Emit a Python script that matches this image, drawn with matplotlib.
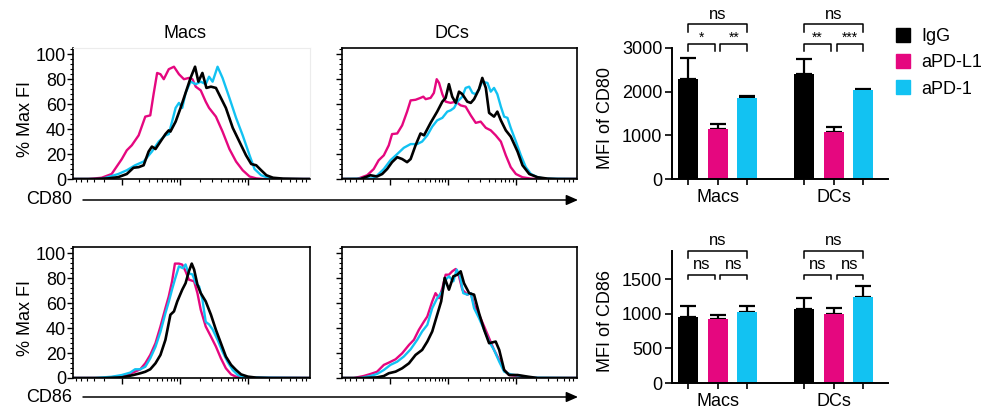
import numpy as np
import matplotlib
matplotlib.use("Agg")
import matplotlib.pyplot as plt
from matplotlib.patches import Patch

plt.rcParams['font.family'] = ['Liberation Sans', 'DejaVu Sans']

# colours for the three treatments
c_igg = 'black'
c_pdl1 = '#e5077f'
c_pd1 = '#12c2f2'

# ---- histogram data (fluorescence axis 0..1000, % of max) ----
# CD80, Macs
cd80_macs_pdl1_x = [0, 64, 121, 163, 206, 227, 248, 277, 305, 326, 340, 355, 369, 383, 404, 426, 447, 468, 489, 504, 518, 539, 560, 574, 603, 631, 660, 688, 716, 745, 773, 801, 1000]
cd80_macs_pdl1_y = [0, 0, 1, 4, 16, 23, 27, 35, 50, 51, 68, 85, 84, 80, 88, 90, 84, 80, 81, 80, 74, 71, 62, 57, 50, 38, 24, 14, 7, 2, 0.5, 0, 0]
cd80_macs_pd1_x = [0, 121, 191, 227, 262, 298, 333, 362, 390, 404, 418, 433, 447, 461, 475, 496, 518, 539, 560, 574, 589, 610, 631, 660, 688, 716, 745, 766, 794, 830, 870, 1000]
cd80_macs_pd1_y = [0, 0, 4, 7, 11, 14, 22, 30, 35, 36, 46, 57, 61, 57, 69, 78, 76, 78, 76, 82, 78, 90, 81, 65, 49, 35, 19, 8, 3, 0.5, 0, 0]
cd80_macs_igg_x = [0, 92, 149, 191, 227, 255, 277, 298, 319, 333, 348, 369, 390, 404, 411, 433, 454, 475, 496, 515, 529, 546, 563, 582, 603, 624, 645, 674, 702, 730, 752, 773, 794, 816, 844, 887, 972, 1000]
cd80_macs_igg_y = [0, 0, 0.5, 1.5, 4, 9, 9.5, 11, 22, 26, 24, 30, 36, 39, 38, 46, 57, 69, 81, 90, 78, 85, 73, 74, 73, 65, 57, 41, 30, 19, 12, 11, 7, 3, 1, 0.3, 0, 0]

# CD80, DCs
cd80_dcs_pdl1_x = [0, 64, 107, 135, 156, 178, 199, 213, 235, 256, 277, 292, 313, 334, 346, 356, 377, 391, 403, 413, 427, 441, 462, 484, 505, 526, 548, 569, 590, 612, 633, 654, 676, 697, 718, 740, 768, 804, 832, 1000]
cd80_dcs_pdl1_y = [0, 0, 3, 8, 15, 19, 27, 36, 36.5, 43, 54, 63, 63.5, 65, 66, 64, 65, 69, 80, 77, 68, 62, 61, 62, 59, 58, 51, 45, 46, 41, 39, 35, 30, 19, 9.5, 4, 1.4, 0.3, 0, 0]
cd80_dcs_pd1_x = [0, 135, 156, 178, 206, 235, 263, 292, 320, 341, 363, 384, 405, 427, 448, 462, 477, 491, 512, 526, 541, 555, 569, 583, 597, 619, 633, 647, 661, 676, 690, 704, 718, 740, 761, 782, 804, 832, 861, 1000]
cd80_dcs_pd1_y = [0, 0.5, 4, 8, 15, 20, 25, 28, 28, 30, 35, 42, 47, 49, 54, 55, 57, 62, 66, 73, 74, 69, 68, 72, 78, 77, 70, 73, 68, 58, 50, 49, 41, 30, 19, 9.5, 4, 1.4, 0.3, 0]
cd80_dcs_igg_x = [0, 78, 107, 121, 149, 171, 192, 213, 235, 256, 277, 292, 313, 334, 349, 377, 405, 427, 441, 455, 469, 484, 498, 512, 533, 548, 562, 583, 597, 612, 626, 647, 661, 676, 697, 718, 747, 768, 797, 832, 875, 917, 1000]
cd80_dcs_igg_y = [0, 0, 2, 3, 2, 4, 8, 13.5, 17.5, 16, 13.5, 16, 27, 36.5, 35, 45, 54, 62, 65, 76, 66, 61, 70, 68, 62, 61, 64, 72, 81, 73, 53, 50, 54, 47, 39, 34, 22, 11, 4, 1.4, 0.3, 0, 0]

# CD86, Macs
cd86_macs_pdl1_x = [0, 121, 191, 227, 262, 284, 305, 326, 348, 369, 390, 404, 418, 430, 447, 461, 475, 489, 511, 525, 539, 560, 582, 603, 624, 645, 667, 688, 716, 1000]
cd86_macs_pdl1_y = [0, 0, 1.1, 2.4, 5.1, 7, 11.8, 18.5, 27.9, 41.3, 56, 65.4, 77.5, 91.7, 91.7, 90.9, 85.5, 78.8, 77.5, 68, 54.7, 41.3, 33.2, 25.2, 15.8, 7.8, 2.9, 1, 0.3, 0]
cd86_macs_pd1_x = [0, 92, 163, 206, 241, 262, 284, 305, 326, 348, 369, 390, 404, 418, 430, 447, 464, 475, 487, 504, 518, 532, 546, 560, 574, 589, 610, 631, 652, 674, 695, 723, 1000]
cd86_macs_pd1_y = [0, 0, 1, 2.4, 4.3, 7, 7, 9, 15.8, 25, 37, 52, 61, 71, 79, 89.5, 88, 91, 84, 83, 76, 73.5, 63, 45, 43, 39, 30.6, 21, 13, 6.4, 2.4, 0.5, 0]
cd86_macs_igg_x = [0, 135, 206, 255, 284, 305, 326, 348, 369, 390, 411, 426, 440, 461, 475, 489, 501, 511, 525, 539, 560, 582, 603, 624, 645, 667, 688, 709, 738, 773, 830, 1000]
cd86_macs_igg_y = [0, 0, 0.5, 2.4, 3.8, 5, 7, 11.8, 18.5, 30.6, 50.7, 53.4, 61.4, 70.8, 76, 85.5, 91.7, 86.9, 74.8, 68, 61.4, 50.7, 38.6, 27.9, 17.2, 10.5, 6.4, 2.9, 1.1, 0.3, 0, 0]

# CD86, DCs
cd86_dcs_pdl1_x = [0, 50, 92, 121, 149, 178, 199, 228, 256, 285, 306, 327, 349, 363, 384, 398, 413, 427, 441, 455, 469, 484, 498, 512, 533, 548, 562, 583, 605, 626, 647, 669, 690, 711, 747, 790, 832, 1000]
cd86_dcs_pdl1_y = [0, 0, 1.6, 3.2, 5, 10.5, 12.3, 15, 19.8, 26.5, 30.6, 38.6, 45.3, 49.3, 61.4, 68, 64, 72, 82.8, 82.8, 85.5, 87.4, 81.5, 70.8, 66.8, 68, 58.7, 50.7, 41.3, 31.9, 22.5, 14.5, 6.4, 2.4, 1.6, 0.5, 0, 0]
cd86_dcs_pd1_x = [0, 78, 121, 149, 178, 206, 235, 263, 292, 320, 341, 363, 384, 405, 427, 441, 455, 474, 488, 502, 516, 533, 548, 562, 583, 605, 626, 647, 669, 690, 718, 761, 804, 1000]
cd86_dcs_pd1_y = [0, 0, 1.6, 3.2, 6.4, 10.5, 13.1, 17.2, 23, 30.6, 37.3, 42.6, 56, 64, 69.4, 78.8, 81.5, 77.5, 86.9, 81.5, 68, 66.8, 68, 56, 48, 38.6, 29.2, 22.5, 13.1, 5.1, 2.9, 1.6, 0.3, 0]
cd86_dcs_igg_x = [0, 92, 149, 178, 199, 228, 256, 285, 313, 341, 363, 384, 405, 422, 437, 455, 474, 491, 505, 519, 541, 562, 583, 605, 626, 654, 669, 690, 711, 747, 790, 832, 1000]
cd86_dcs_igg_y = [0, 0, 0.5, 1.6, 3.8, 5.1, 7.8, 11.8, 18.5, 22.5, 29.2, 37.3, 50.7, 61.4, 80.2, 70.8, 81.5, 82.8, 85.5, 76, 68, 66.8, 52, 38.6, 27.9, 29.2, 22.5, 6.4, 2.4, 2.4, 1.1, 0, 0]

# ---- bar data (mean, upper error) ----
groups = ['Macs', 'DCs']
treatments = ['IgG', 'aPD-L1', 'aPD-1']
cd80_macs_mean = [2300, 1140, 1845]
cd80_macs_err = [480, 122, 52]
cd80_dcs_mean = [2415, 1080, 2035]
cd80_dcs_err = [340, 108, 22]
cd86_macs_mean = [960, 930, 1030]
cd86_macs_err = [153, 53, 83]
cd86_dcs_mean = [1075, 995, 1247]
cd86_dcs_err = [153, 85, 160]

cd80_macs_sig = ['ns', '*', '**']
cd80_dcs_sig = ['ns', '**', '***']
cd86_macs_sig = ['ns', 'ns', 'ns']
cd86_dcs_sig = ['ns', 'ns', 'ns']

W, H = 988, 408
fig = plt.figure(figsize=(W / 100, H / 100), dpi=100)


def box(l, t, r, b):
    return [l / W, 1 - b / H, (r - l) / W, (b - t) / H]


def fluor_ticks(ax):
    majors = [205, 450, 740]
    minors = []
    for k in range(2, 10):
        lk = np.log10(k)
        minors += [205 - 245 * lk, 205 + 245 * lk, 450 + 290 * lk, 740 + 290 * lk]
    minors = [m for m in minors if 0 <= m <= 1000]
    ax.set_xticks(majors)
    ax.set_xticks(minors, minor=True)
    ax.set_xticklabels([])
    ax.set_yticks([0, 20, 40, 60, 80, 100])
    ax.set_yticks(np.arange(0, 105, 4), minor=True)
    ax.tick_params(which='major', length=4, width=1, labelsize=13, pad=1)
    ax.tick_params(which='minor', length=2, width=0.8)


def histogram(rect, curves, ylabels, faint_frame=False):
    ax = fig.add_axes(box(*rect))
    for xs, ys, col, lw in curves:
        ax.plot(xs, ys, color=col, lw=lw)
    ax.set_xlim(0, 1000)
    ax.set_ylim(0, 105)
    fluor_ticks(ax)
    if not ylabels:
        ax.set_yticklabels([])
    for s in ax.spines.values():
        s.set_linewidth(1.2)
    if faint_frame:
        ax.spines['top'].set_color('#ececec')
        ax.spines['right'].set_color('#ececec')
        ax.spines['top'].set_linewidth(0.8)
        ax.spines['right'].set_linewidth(0.8)
    return ax


lw = 1.7
histogram((73, 48, 310, 179), [
    (cd80_macs_pdl1_x, cd80_macs_pdl1_y, c_pdl1, lw),
    (cd80_macs_pd1_x, cd80_macs_pd1_y, c_pd1, lw),
    (cd80_macs_igg_x, cd80_macs_igg_y, c_igg, lw + 0.2)], True, faint_frame=True)
histogram((342, 48, 577, 179), [
    (cd80_dcs_pdl1_x, cd80_dcs_pdl1_y, c_pdl1, lw),
    (cd80_dcs_pd1_x, cd80_dcs_pd1_y, c_pd1, lw),
    (cd80_dcs_igg_x, cd80_dcs_igg_y, c_igg, lw + 0.2)], False)
histogram((73, 247, 310, 378), [
    (cd86_macs_pdl1_x, cd86_macs_pdl1_y, c_pdl1, lw),
    (cd86_macs_pd1_x, cd86_macs_pd1_y, c_pd1, lw),
    (cd86_macs_igg_x, cd86_macs_igg_y, c_igg, lw + 0.2)], True)
histogram((342, 247, 577, 378), [
    (cd86_dcs_pdl1_x, cd86_dcs_pdl1_y, c_pdl1, lw),
    (cd86_dcs_pd1_x, cd86_dcs_pd1_y, c_pd1, lw),
    (cd86_dcs_igg_x, cd86_dcs_igg_y, c_igg, lw + 0.2)], False)

# column titles, axis labels, marker arrows
fig.text(185 / W, 1 - 33 / H, 'Macs', ha='center', va='center', fontsize=13)
fig.text(452 / W, 1 - 33 / H, 'DCs', ha='center', va='center', fontsize=13)
fig.text(25 / W, 1 - 119 / H, '% Max FI', rotation=90, ha='center', va='center', fontsize=13)
fig.text(25 / W, 1 - 318 / H, '% Max FI', rotation=90, ha='center', va='center', fontsize=13)
for label, y in [('CD80', 200), ('CD86', 397)]:
    fig.text(72 / W, 1 - y / H, label, ha='right', va='center', fontsize=13)
    fig.add_artist(matplotlib.patches.FancyArrowPatch(
        (83 / W, 1 - y / H), (578 / W, 1 - y / H), transform=fig.transFigure,
        arrowstyle='-|>,head_length=0.5,head_width=0.22', mutation_scale=14,
        color='black', lw=1.1, shrinkA=0, shrinkB=0))


def bar_panel(rect, ymax, yticks, ylabel, macs_mean, macs_err, dcs_mean, dcs_err,
              macs_sig, dcs_sig, levels):
    ax = fig.add_axes(box(*rect))
    cols = [c_igg, c_pdl1, c_pd1]
    offsets = [0, 3.95]
    for off, mean, err in zip(offsets, [macs_mean, dcs_mean], [macs_err, dcs_err]):
        pos = [off + i for i in range(len(treatments))]
        ax.bar(pos, mean, width=0.68, color=cols, zorder=2)
        ax.errorbar(pos, mean, yerr=[[0] * 3, err], fmt='none', ecolor='black',
                    elinewidth=1.6, capsize=5.5, capthick=1.6, zorder=1)
    ax.set_xlim(-0.55, 6.8)
    ax.set_ylim(0, ymax)
    pos_all = [o + i for o in offsets for i in range(3)]
    ax.set_xticks(pos_all)
    ax.set_xticklabels(['', groups[0], '', '', groups[1], ''])
    ax.set_yticks(yticks)
    ax.tick_params(axis='x', length=4, width=1.2, labelsize=13, pad=3)
    ax.tick_params(axis='y', length=5, width=1.2, labelsize=13, pad=2)
    ax.spines['top'].set_visible(False)
    ax.spines['right'].set_visible(False)
    ax.spines['left'].set_linewidth(1.4)
    ax.spines['bottom'].set_linewidth(1.4)
    # significance brackets
    top_y, top_d, low_y, low_d, top_t, low_t, star_t = levels
    for off, sig in zip(offsets, [macs_sig, dcs_sig]):
        spans = [(off, off + 2, top_y, top_d, top_t),
                 (off, off + 0.9, low_y, low_d, low_t),
                 (off + 1.1, off + 2, low_y, low_d, low_t)]
        for (a, b, y, d, ty), s in zip(spans, sig):
            ax.plot([a, a, b, b], [y - d, y, y, y - d], color='black', lw=1.1,
                    clip_on=False)
            if s == 'ns':
                ax.text((a + b) / 2, ty, s, ha='center', va='center', fontsize=12)
            else:
                ax.text((a + b) / 2, star_t, s, ha='center', va='center', fontsize=10)
    fig.text(605 / W, 1 - (rect[1] + rect[3]) / 2 / H - 0.01, ylabel, rotation=90,
             ha='center', va='center', fontsize=13)
    return ax


bar_panel((672, 48, 888, 179), 3000, [0, 1000, 2000, 3000], 'MFI of CD80',
          cd80_macs_mean, cd80_macs_err, cd80_dcs_mean, cd80_dcs_err,
          cd80_macs_sig, cd80_dcs_sig,
          (3542, 170, 3085, 155, 3760, 3300, 3230))
bar_panel((672, 251, 888, 383), 1908, [0, 500, 1000, 1500], 'MFI of CD86',
          cd86_macs_mean, cd86_macs_err, cd86_dcs_mean, cd86_dcs_err,
          cd86_macs_sig, cd86_dcs_sig,
          (1908, 106, 1561, 62, 2060, 1715, 1700))

handles = [Patch(facecolor=c, edgecolor=c) for c in [c_igg, c_pdl1, c_pd1]]
fig.legend(handles, treatments, loc='upper left', bbox_to_anchor=(896 / W, 1 - 28 / H),
           frameon=False, fontsize=13, handlelength=0.8, handleheight=0.8,
           handletextpad=0.6, labelspacing=0.5, borderaxespad=0, borderpad=0)

fig.savefig('out.png', dpi=100)
